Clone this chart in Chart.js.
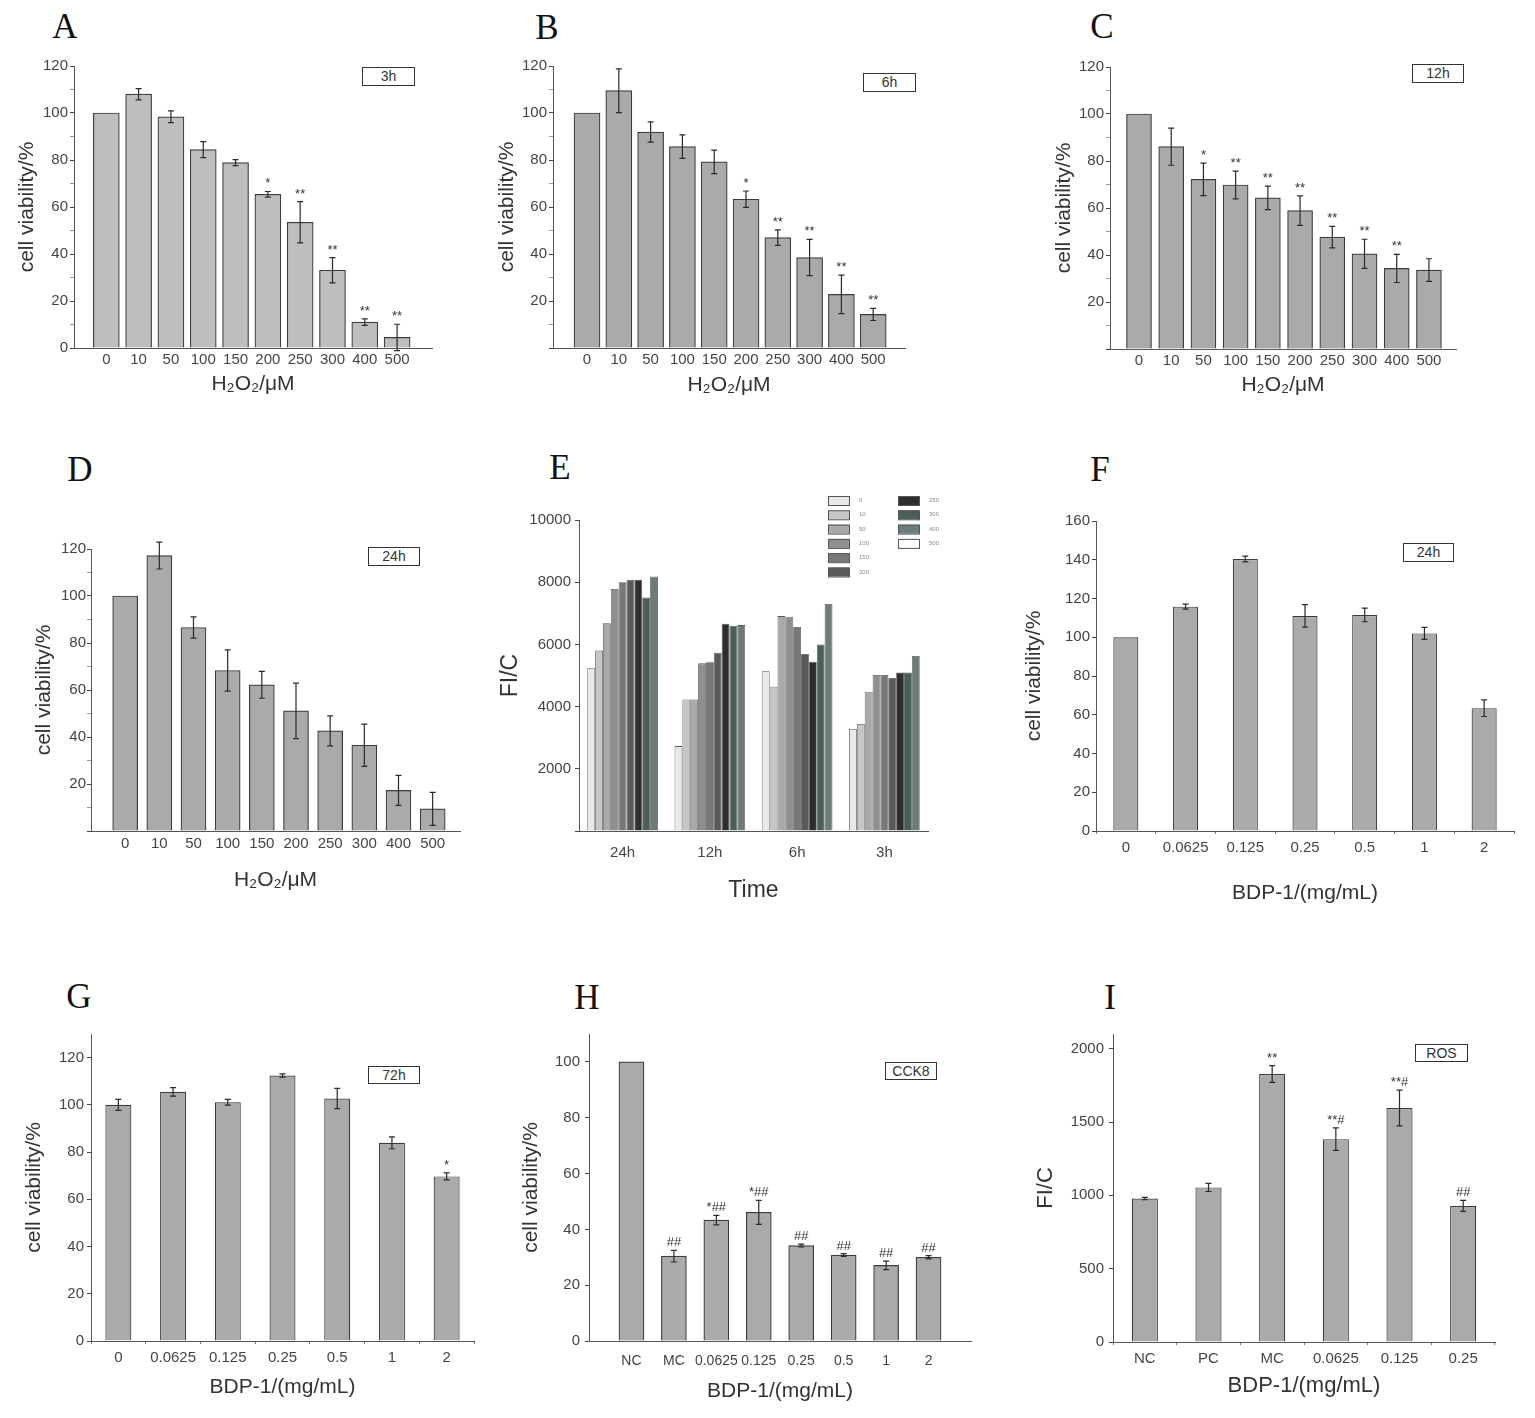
<!DOCTYPE html>
<html>
<head>
<meta charset="utf-8">
<script src="https://cdn.jsdelivr.net/npm/chart.js@4.4.1/dist/chart.umd.min.js"></script>
<style>
  body { margin: 0; background: #fff; width: 1535px; height: 1418px; position: relative; overflow: hidden; font-family: "Liberation Sans", Arial, sans-serif; }
  canvas { position: absolute; }
  .letter { position: absolute; font-family: "Liberation Serif", "Times New Roman", serif; font-size: 35px; line-height: 1; color: #111; transform: translate(-50%, -50%); }
  .tag { position: absolute; border: 1px solid #333; box-sizing: border-box; font-size: 14px; color: #333; text-align: center; background: #fff; }
</style>
</head>
<body>
<div class="letter" style="left:65px;top:26px">A</div>
<div class="letter" style="left:547px;top:27px">B</div>
<div class="letter" style="left:1102px;top:26px">C</div>
<div class="letter" style="left:80px;top:469px">D</div>
<div class="letter" style="left:560px;top:467px">E</div>
<div class="letter" style="left:1100px;top:469px">F</div>
<div class="letter" style="left:79px;top:996px">G</div>
<div class="letter" style="left:587px;top:997px">H</div>
<div class="letter" style="left:1110px;top:997px">I</div>

<div class="tag" style="left:362px;top:67px;width:53px;height:19px;line-height:17px">3h</div>
<div class="tag" style="left:863px;top:73px;width:53px;height:19px;line-height:17px">6h</div>
<div class="tag" style="left:1412px;top:64px;width:52px;height:19px;line-height:17px">12h</div>
<div class="tag" style="left:368px;top:547px;width:52px;height:19px;line-height:17px">24h</div>
<div class="tag" style="left:1403px;top:543px;width:51px;height:19px;line-height:17px">24h</div>
<div class="tag" style="left:368px;top:1066px;width:52px;height:18px;line-height:16px">72h</div>
<div class="tag" style="left:885px;top:1062px;width:52px;height:18px;line-height:16px">CCK8</div>
<div class="tag" style="left:1415px;top:1044px;width:53px;height:18px;line-height:16px">ROS</div>

<script>
// H2O2 dose series (panels A-D)
const h2o2Doses = ["0", "10", "50", "100", "150", "200", "250", "300", "400", "500"];

const viability3h = [100, 108, 98.4, 84.4, 78.9, 65.4, 53.5, 33.1, 11, 4.5];
const error3h = [0, 2.4, 2.5, 3.4, 1.3, 1.2, 8.8, 5.4, 1.4, 5.6];
const signif3h = ["", "", "", "", "", "*", "**", "**", "**", "**"];

const viability6h = [100, 109.5, 91.9, 85.7, 79.2, 63.3, 47, 38.5, 22.8, 14.3];
const error6h = [0, 9.3, 4.3, 5, 5, 3.5, 3.3, 7.7, 8.2, 2.6];
const signif6h = ["", "", "", "", "", "*", "**", "**", "**", "**"];

const viability12h = [100, 86.1, 72.2, 69.8, 64.3, 58.9, 47.6, 40.5, 34.3, 33.6];
const error12h = [0, 7.9, 6.9, 5.9, 5, 6.3, 4.6, 6.2, 6, 4.8];
const signif12h = ["", "", "*", "**", "**", "**", "**", "**", "**", ""];

const viability24h = [100, 117.2, 86.6, 68.3, 62.2, 51.1, 42.6, 36.5, 17.3, 9.4];
const error24h = [0, 5.7, 4.5, 8.8, 5.7, 11.8, 6.4, 9, 6.4, 7];

// panel E: FI/C per dose, values in order of fiTimes
const fiTimes = ["24h", "12h", "6h", "3h"];
const fiDoses = ["0", "10", "50", "100", "150", "200", "250", "300", "400", "500"];
const fiByDose = [
  [5230, 2730, 5140, 3280],
  [5800, 4230, 4640, 3440],
  [6680, 4230, 6910, 4480],
  [7780, 5390, 6890, 5020],
  [8000, 5430, 6560, 5020],
  [8080, 5730, 5690, 4920],
  [8080, 6660, 5440, 5100],
  [7510, 6600, 6000, 5100],
  [8180, 6620, 7300, 5630],
  [null, null, null, null],
];

// BDP-1 series (panels F-I)
const bdpDoses = ["0", "0.0625", "0.125", "0.25", "0.5", "1", "2"];
const viabilityBdp24h = [100, 115.8, 140.4, 111, 111.5, 102, 63.4];
const errorBdp24h = [0, 1.3, 1.5, 5.8, 3.5, 3.1, 4.3];

const viabilityBdp72h = [100, 105.5, 101.1, 112.4, 102.7, 83.9, 69.7];
const errorBdp72h = [2.3, 1.8, 1.2, 0.7, 4.3, 2.5, 1.5];
const signifBdp72h = ["", "", "", "", "", "", "*"];

const cckGroups = ["NC", "MC", "0.0625", "0.125", "0.25", "0.5", "1", "2"];
const cckViability = [100, 30.4, 43.3, 46.1, 34.2, 30.8, 27.1, 30];
const cckError = [0, 2.1, 1.7, 4.3, 0.5, 0.5, 1.5, 0.6];
const cckSignif = ["", "##", "*##", "*##", "##", "##", "##", "##"];

const rosGroups = ["NC", "PC", "MC", "0.0625", "0.125", "0.25"];
const rosFI = [978, 1054, 1827, 1383, 1595, 928];
const rosError = [8, 28, 57, 77, 122, 37];
const rosSignif = ["", "", "**", "**#", "**#", "##"];


const family = '"Liberation Sans", Arial, Helvetica, sans-serif';
const fiPalette = ["#e9e9e9", "#c6c6c6", "#a9a9a9", "#8f8f8f", "#787878", "#5a5a5a", "#2e2e2e", "#4b5f59", "#6c7b7b", "#ffffff"];

// error bars + significance marks, read from dataset 0
const errorBarPlugin = {
  id: "errorBars",
  afterDatasetsDraw(chart) {
    const ds = chart.data.datasets[0];
    if (!ds.errorBars && !ds.marks) return;
    const { ctx } = chart;
    const y = chart.scales.y;
    const meta = chart.getDatasetMeta(0);
    ctx.save();
    ctx.strokeStyle = "#2a2a2a";
    ctx.lineWidth = 1.2;
    meta.data.forEach((bar, i) => {
      const raw = ds.data[i];
      const v = typeof raw === "object" ? raw.y : raw;
      const e = ds.errorBars ? ds.errorBars[i] : 0;
      let top = bar.y;
      if (e) {
        const hi = y.getPixelForValue(v + e);
        const lo = y.getPixelForValue(v - e);
        ctx.beginPath();
        ctx.moveTo(bar.x, hi); ctx.lineTo(bar.x, lo);
        ctx.moveTo(bar.x - 3, hi); ctx.lineTo(bar.x + 3, hi);
        ctx.moveTo(bar.x - 3, lo); ctx.lineTo(bar.x + 3, lo);
        ctx.stroke();
        top = Math.min(top, hi);
      }
      const mark = ds.marks ? ds.marks[i] : "";
      if (mark) {
        ctx.fillStyle = "#333";
        ctx.font = "13px " + family;
        ctx.textAlign = "center";
        ctx.textBaseline = "alphabetic";
        ctx.fillText(mark, bar.x, top - 4);
      }
    });
    ctx.restore();
  },
};

// two-column swatch legend for panel E
const doseLegendPlugin = {
  id: "doseLegend",
  afterDraw(chart, args, opts) {
    if (!opts.display) return;
    const { ctx, chartArea } = chart;
    ctx.save();
    chart.data.datasets.forEach((ds, i) => {
      const col = Math.floor(i / opts.rows);
      const row = i % opts.rows;
      const x = chartArea.left + opts.x + col * opts.colGap;
      const y = chartArea.top + opts.y + row * opts.rowGap;
      ctx.fillStyle = ds.backgroundColor;
      ctx.fillRect(x, y, opts.boxW, opts.boxH);
      ctx.strokeStyle = "#555";
      ctx.lineWidth = 1;
      ctx.strokeRect(x + 0.5, y + 0.5, opts.boxW, opts.boxH);
      ctx.fillStyle = "#888";
      ctx.font = "6px " + family;
      ctx.textBaseline = "middle";
      ctx.fillText(ds.label, x + opts.boxW + 10, y + opts.boxH / 2);
    });
    ctx.restore();
  },
};

Chart.register(errorBarPlugin, doseLegendPlugin);

function placeCanvas(p) {
  const half = p.titleSize * 0.6;
  const padTop = p.padTop || 14;
  const padRight = 14;
  const left = Math.round(p.yTitleX - half);
  const top = p.top - padTop;
  const width = p.right + padRight - left;
  const height = Math.round(p.xTitleY + half) - top;
  const canvas = document.createElement("canvas");
  canvas.width = width;
  canvas.height = height;
  canvas.style.left = left + "px";
  canvas.style.top = top + "px";
  canvas.style.width = width + "px";
  canvas.style.height = height + "px";
  document.body.appendChild(canvas);
  return { canvas, padTop, padRight, yW: p.left - left, xH: top + height - p.bottom };
}

function yScale(p, f) {
  const isLabeled = (v) => Math.abs(v - Math.round(v)) < 1e-6 && Math.round(v) % p.yEvery === 0;
  return {
    min: 0,
    max: p.yMax,
    afterFit: (s) => { s.width = f.yW; },
    afterBuildTicks: (s) => {
      const ticks = [];
      for (let v = 0; v <= p.yMax + 1e-9; v += p.yStep) ticks.push({ value: v });
      s.ticks = ticks;
    },
    border: { color: "#555", width: 1 },
    grid: {
      drawOnChartArea: false,
      drawTicks: true,
      tickLength: 4,
      tickColor: (c) => (c.tick && isLabeled(c.tick.value) ? "#444" : "#999"),
    },
    ticks: {
      padding: p.yPad,
      color: "#444",
      font: { size: 15, family },
      callback: (v) => {
        if (!isLabeled(v)) return "";
        if (Math.round(v) === 0 && !p.showZero) return "";
        return String(Math.round(v));
      },
    },
    title: { display: true, text: p.yTitle, color: "#333", padding: 0, font: { size: p.titleSize, family } },
  };
}

function xTitle(p) {
  return { display: true, text: p.xTitle, color: "#333", padding: 0, font: { size: p.titleSize, family } };
}

function buildBarPanel(p) {
  const f = placeCanvas(p);
  let x;
  let data;
  if (p.linear) {
    data = p.values.map((v, i) => ({ x: i, y: v }));
    x = {
      type: "linear",
      min: p.xMin,
      max: p.xMax,
      offset: false,
      afterFit: (s) => { s.height = f.xH; },
      border: { color: "#555", width: 1 },
      grid: { display: false, drawTicks: false, offset: false },
      ticks: {
        stepSize: 1,
        includeBounds: false,
        autoSkip: false,
        maxRotation: 0,
        padding: p.xPad,
        color: "#444",
        font: { size: p.xFont || 15, family },
        callback: (v) => (Number.isInteger(v) && p.labels[v] !== undefined ? p.labels[v] : ""),
      },
      title: xTitle(p),
    };
  } else {
    data = p.values;
    x = {
      type: "category",
      offset: true,
      afterFit: (s) => { s.height = f.xH; },
      border: { color: "#555", width: 1 },
      grid: { display: true, drawOnChartArea: false, drawTicks: true, tickLength: 3, tickColor: "#777", offset: true },
      ticks: { autoSkip: false, maxRotation: 0, padding: p.xPad, color: "#444", font: { size: p.xFont || 15, family } },
      title: xTitle(p),
    };
  }

  new Chart(f.canvas, {
    type: "bar",
    data: {
      labels: p.linear ? undefined : p.labels,
      datasets: [
        {
          data,
          errorBars: p.errors,
          marks: p.marks,
          backgroundColor: p.color || "#aaaaaa",
          borderColor: "#3c3c3c",
          borderWidth: 1.2,
          barThickness: p.barThickness,
          barPercentage: p.barPct || 0.9,
          categoryPercentage: 1,
        },
      ],
    },
    options: {
      responsive: false,
      animation: false,
      layout: { padding: { top: f.padTop, right: f.padRight, left: 0, bottom: 0 } },
      plugins: { legend: { display: false }, tooltip: { enabled: false } },
      scales: { x, y: yScale(p, f) },
    },
  });
}

const h2o2Title = "H\u2082O\u2082/\u03bcM";
const bdpTitle = "BDP-1/(mg/mL)";

// A
buildBarPanel({
  labels: h2o2Doses, values: viability3h, errors: error3h, marks: signif3h,
  linear: true, xMin: -1, xMax: 10.08, barThickness: 26, color: "#bebebe",
  yMax: 120, yStep: 10, yEvery: 20, showZero: true, yPad: 2, xPad: 3,
  left: 74, right: 432, top: 66, bottom: 348, yTitleX: 28, xTitleY: 384, titleSize: 21,
  yTitle: "cell viability/%", xTitle: h2o2Title,
});
// B
buildBarPanel({
  labels: h2o2Doses, values: viability6h, errors: error6h, marks: signif6h,
  linear: true, xMin: -1.07, xMax: 10, barThickness: 26,
  yMax: 120, yStep: 10, yEvery: 20, showZero: false, yPad: 2, xPad: 3,
  left: 553, right: 905, top: 66, bottom: 348, yTitleX: 508, xTitleY: 385, titleSize: 21,
  yTitle: "cell viability/%", xTitle: h2o2Title,
});
// C
buildBarPanel({
  labels: h2o2Doses, values: viability12h, errors: error12h, marks: signif12h,
  linear: true, xMin: -0.9, xMax: 9.84, barThickness: 25,
  yMax: 120, yStep: 10, yEvery: 20, showZero: false, yPad: 2, xPad: 3,
  left: 1110, right: 1456, top: 67, bottom: 349, yTitleX: 1065, xTitleY: 385, titleSize: 21,
  yTitle: "cell viability/%", xTitle: h2o2Title,
});
// D
buildBarPanel({
  labels: h2o2Doses, values: viability24h, errors: error24h,
  linear: true, xMin: -1, xMax: 9.8, barThickness: 25,
  yMax: 120, yStep: 10, yEvery: 20, showZero: false, yPad: 1, xPad: 4,
  left: 91, right: 460, top: 549, bottom: 831, yTitleX: 45, xTitleY: 880, titleSize: 21,
  yTitle: "cell viability/%", xTitle: h2o2Title,
});

// E: grouped bars by time
(function () {
  const p = {
    left: 579, right: 928, top: 520, bottom: 831, yTitleX: 511, xTitleY: 890, titleSize: 23, padTop: 40,
    yMax: 10000, yStep: 2000, yEvery: 2000, showZero: false, yPad: 4,
    yTitle: "FI/C", xTitle: "Time",
  };
  const f = placeCanvas(p);
  new Chart(f.canvas, {
    type: "bar",
    data: {
      labels: fiTimes,
      datasets: fiDoses.map((dose, i) => ({
        label: dose,
        data: fiByDose[i],
        backgroundColor: fiPalette[i],
        borderColor: "#555",
        borderWidth: 0.8,
        skipNull: true,
        barPercentage: 1,
        categoryPercentage: 0.81,
      })),
    },
    options: {
      responsive: false,
      animation: false,
      layout: { padding: { top: f.padTop, right: f.padRight, left: 0, bottom: 0 } },
      plugins: {
        legend: { display: false },
        tooltip: { enabled: false },
        doseLegend: { display: true, x: 249, y: -24, rows: 6, rowGap: 14.3, colGap: 70, boxW: 21, boxH: 9 },
      },
      scales: {
        x: {
          type: "category",
          offset: true,
          afterFit: (s) => { s.height = f.xH; },
          border: { color: "#555", width: 1 },
          grid: { display: false, drawTicks: false },
          ticks: { padding: 13, color: "#444", font: { size: 15, family } },
          title: xTitle(p),
        },
        y: yScale(p, f),
      },
    },
  });
})();

// F
buildBarPanel({
  labels: bdpDoses, values: viabilityBdp24h, errors: errorBdp24h,
  barPct: 0.42,
  yMax: 160, yStep: 20, yEvery: 20, showZero: true, yPad: 2, xPad: 5,
  left: 1096, right: 1514, top: 521, bottom: 831, yTitleX: 1035, xTitleY: 893, titleSize: 21,
  yTitle: "cell viability/%", xTitle: bdpTitle,
});
// G
buildBarPanel({
  labels: bdpDoses, values: viabilityBdp72h, errors: errorBdp72h, marks: signifBdp72h,
  barPct: 0.475,
  yMax: 130, yStep: 20, yEvery: 20, showZero: true, yPad: 3, xPad: 5,
  left: 91, right: 474, top: 1034, bottom: 1341, yTitleX: 35, xTitleY: 1387, titleSize: 21,
  yTitle: "cell viability/%", xTitle: bdpTitle,
});
// H
buildBarPanel({
  labels: cckGroups, values: cckViability, errors: cckError, marks: cckSignif,
  linear: true, xMin: -1, xMax: 8, barThickness: 25, xFont: 14,
  yMax: 110, yStep: 20, yEvery: 20, showZero: true, yPad: 5, xPad: 12,
  left: 589, right: 971, top: 1034, bottom: 1341, yTitleX: 532, xTitleY: 1391, titleSize: 21,
  yTitle: "cell viability/%", xTitle: bdpTitle,
});
// I
buildBarPanel({
  labels: rosGroups, values: rosFI, errors: rosError, marks: rosSignif,
  barPct: 0.41,
  yMax: 2100, yStep: 500, yEvery: 500, showZero: true, yPad: 5, xPad: 5,
  left: 1113, right: 1495, top: 1034, bottom: 1342, yTitleX: 1046, xTitleY: 1386, titleSize: 22,
  yTitle: "FI/C", xTitle: bdpTitle,
});
</script>
</body>
</html>
